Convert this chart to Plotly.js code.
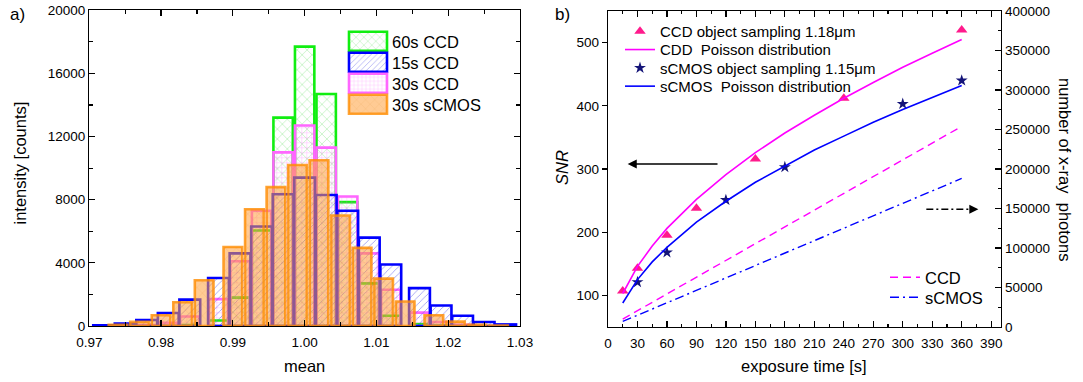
<!DOCTYPE html>
<html><head><meta charset="utf-8">
<script src="https://cdn.plot.ly/plotly-3.0.1.min.js"></script>
<style>html,body{margin:0;padding:0;background:#fff}#chart{width:1083px;height:382px}</style>
</head><body><div id="chart"></div>
<script>
// ---------- Panel a: histograms of the mean ----------
const binsCCD15 = [0.972,0.975,0.978,0.981,0.984,0.988,0.991,0.994,0.997,1.000,1.003,1.006,1.009,1.012,1.016,1.019,1.022,1.025,1.028];
const countsCCD15 = [50,150,380,820,1670,3040,4600,6300,8350,9400,8300,7300,5600,3900,2400,1300,650,250,100];
const binsCCD60 = [0.981,0.984,0.988,0.991,0.994,0.997,1.000,1.003,1.006,1.009,1.012,1.016,1.019];
const countsCCD60 = [20,60,350,1800,6050,13200,17700,14700,7850,2700,650,120,30];
const binsCCD30 = [0.978,0.981,0.984,0.988,0.991,0.994,0.997,1.000,1.003,1.006,1.009,1.012,1.016,1.019,1.022];
const countsCCD30 = [60,200,600,1700,4100,7300,11000,12700,11300,8200,4600,2300,850,250,80];
const binsCMOS30 = [0.974,0.977,0.980,0.983,0.986,0.990,0.993,0.996,0.999,1.002,1.005,1.008,1.011,1.014,1.018,1.021,1.024,1.027];
const countsCMOS30 = [80,260,680,1500,2900,5000,7400,8800,10200,10500,7000,4950,3000,1550,680,280,80,30];
const histNames = ['60s CCD','15s CCD','30s CCD','30s sCMOS'];

// ---------- Panel b: SNR vs exposure time ----------
const tObsCCD = [15,30,60,90,150,240,360];
const snrObsCCD = [107,143,195,238,316,412,520];
const tObsCMOS = [30,60,120,180,300,360];
const snrObsCMOS = [121,168,251,303,403,440];
const tModel = [15,30,45,60,90,120,150,180,210,240,270,300,330,360];
const snrPoissonCCD = [103,146,178,206,252,291,326,357,385,412,437,461,483,505];
const snrPoissonCMOS = [88,125,153,176,216,249,279,305,330,352,374,394,413,432];
const tPhotons = [15,360];
const photonsCCD = [10000,254000];
const photonsCMOS = [7000,188000];

const FONT = 'Liberation Sans, Arial, sans-serif';
const data = [
  {type:'bar', x:binsCCD60, y:countsCCD60, name:histNames[0], width:0.0027, xaxis:'x', yaxis:'y', legend:'legend', legendrank:1,
   marker:{color:'rgba(0,0,0,0)', line:{color:'#11ee11', width:2.6},
     pattern:{shape:'x', fgcolor:'rgba(40,210,40,0.55)', bgcolor:'rgba(255,255,255,0)', size:7, solidity:0.12}}},
  {type:'bar', x:binsCCD30, y:countsCCD30, name:histNames[2], width:0.0027, xaxis:'x', yaxis:'y', legend:'legend', legendrank:3,
   marker:{color:'rgba(0,0,0,0)', line:{color:'#ff66ff', width:2.6},
     pattern:{shape:'+', fgcolor:'rgba(255,90,255,0.55)', bgcolor:'rgba(255,255,255,0)', size:5, solidity:0.15}}},
  {type:'bar', x:binsCCD15, y:countsCCD15, name:histNames[1], width:0.0029, xaxis:'x', yaxis:'y', legend:'legend', legendrank:2,
   marker:{color:'rgba(0,0,0,0)', line:{color:'#0000ff', width:2.6},
     pattern:{shape:'/', fgcolor:'rgba(70,70,230,0.6)', bgcolor:'rgba(255,255,255,0)', size:5, solidity:0.15}}},
  {type:'bar', x:binsCMOS30, y:countsCMOS30, name:histNames[3], width:0.0026, xaxis:'x', yaxis:'y', legend:'legend', legendrank:4,
   marker:{color:'rgba(255,160,60,0.55)', line:{color:'rgba(255,140,0,0.8)', width:2.6},
     pattern:{shape:'x', fillmode:'overlay', fgcolor:'rgba(210,110,0,0.45)', bgcolor:'rgba(255,160,60,0.55)', size:8, solidity:0.1}}},

  {type:'scatter', mode:'markers', x:tObsCCD, y:snrObsCCD, name:'CCD object sampling 1.18μm', xaxis:'x2', yaxis:'y2', legend:'legend2',
   marker:{symbol:'triangle-up', size:10, color:'#ff1a8c'}},
  {type:'scatter', mode:'lines', x:tModel, y:snrPoissonCCD, name:'CDD \u00a0Poisson distribution', xaxis:'x2', yaxis:'y2', legend:'legend2',
   line:{color:'#ff00ff', width:1.6}},
  {type:'scatter', mode:'markers', x:tObsCMOS, y:snrObsCMOS, name:'sCMOS object sampling 1.15μm', xaxis:'x2', yaxis:'y2', legend:'legend2',
   marker:{symbol:'star', size:9, color:'#141478'}},
  {type:'scatter', mode:'lines', x:tModel, y:snrPoissonCMOS, name:'sCMOS \u00a0Poisson distribution', xaxis:'x2', yaxis:'y2', legend:'legend2',
   line:{color:'#0000ff', width:1.6}},
  {type:'scatter', mode:'lines', x:tPhotons, y:photonsCCD, name:'CCD', xaxis:'x2', yaxis:'y3', legend:'legend3',
   line:{color:'#ff00ff', width:1.4, dash:'8px,5px'}},
  {type:'scatter', mode:'lines', x:tPhotons, y:photonsCMOS, name:'sCMOS', xaxis:'x2', yaxis:'y3', legend:'legend3',
   line:{color:'#0000ff', width:1.4, dash:'9px,4px,2px,4px'}}
];

const tickfont = {family:FONT, size:13.5, color:'#000'};
function ax(extra){
  return Object.assign({showline:true, linecolor:'#000', linewidth:1.3, ticks:'inside', ticklen:6, tickwidth:1.2,
    tickcolor:'#000', showgrid:false, zeroline:false, tickfont:tickfont, fixedrange:true}, extra);
}
const minorIn = (d,len)=>({dtick:d, ticks:'inside', ticklen:len, tickwidth:1.1, tickcolor:'#000', showgrid:false});
const px = v => v/1083, py = v => 1 - v/382;

const layout = {
  width:1083, height:382, margin:{l:0,r:0,t:0,b:0}, paper_bgcolor:'#fff', plot_bgcolor:'rgba(0,0,0,0)',
  barmode:'overlay', font:{family:FONT, color:'#000'}, showlegend:true,
  xaxis: ax({domain:[px(89.3), px(520)], range:[0.97,1.03], tick0:0.97, dtick:0.01, tickformat:'.2f', mirror:'ticks', anchor:'y', minor:minorIn(0.005,4), ticklabelstandoff:3}),
  yaxis: ax({domain:[py(326), py(10.3)], range:[0,20000], tick0:0, dtick:4000, tickformat:'d', mirror:'ticks', anchor:'x', minor:minorIn(2000,4)}),
  xaxis2: ax({domain:[px(608), px(1001)], range:[0,400], tick0:0, dtick:30, mirror:'ticks', anchor:'y2', minor:minorIn(15,3), ticklabelstandoff:3}),
  yaxis2: ax({domain:[py(327), py(11)], range:[50,550], tick0:0, dtick:100, ticks:'outside', ticklen:5, anchor:'x2'}),
  yaxis3: ax({overlaying:'y2', side:'right', anchor:'x2', range:[0,400000], tick0:0, dtick:50000, tickformat:'d', minor:minorIn(25000,3)}),
  legend: {x:px(352), y:py(24), xanchor:'left', yanchor:'top', bgcolor:'rgba(0,0,0,0)', borderwidth:0, font:{family:FONT, size:16.5, color:'#000'}, traceorder:'normal'},
  legend2: {x:px(620), y:py(15), xanchor:'left', yanchor:'top', bgcolor:'rgba(0,0,0,0)', borderwidth:0, font:{family:FONT, size:15, color:'#000'}},
  legend3: {x:px(885), y:py(260), xanchor:'left', yanchor:'top', bgcolor:'rgba(0,0,0,0)', borderwidth:0, font:{family:FONT, size:16.5, color:'#000'}},
  annotations: [
    {text:'a)', xref:'paper', yref:'paper', x:px(17), y:py(15), showarrow:false, font:{size:17}, xanchor:'center', yanchor:'middle'},
    {text:'b)', xref:'paper', yref:'paper', x:px(562), y:py(15), showarrow:false, font:{size:17}, xanchor:'center', yanchor:'middle'},
    {text:'intensity [counts]', xref:'paper', yref:'paper', x:px(19.5), y:py(163), textangle:-90, showarrow:false, font:{size:16.5}, xanchor:'center', yanchor:'middle'},
    {text:'mean', xref:'paper', yref:'paper', x:px(304.6), y:py(366), showarrow:false, font:{size:16.5}, xanchor:'center', yanchor:'middle'},
    {text:'<i>SNR</i>', xref:'paper', yref:'paper', x:px(562), y:py(168), textangle:-90, showarrow:false, font:{size:16.5}, xanchor:'center', yanchor:'middle'},
    {text:'exposure time [s]', xref:'paper', yref:'paper', x:px(804), y:py(366), showarrow:false, font:{size:16.5}, xanchor:'center', yanchor:'middle'},
    {text:'number of x-ray \u00a0photons', xref:'paper', yref:'paper', x:px(1065), y:py(169), textangle:90, showarrow:false, font:{size:16.5}, xanchor:'center', yanchor:'middle'},
    {text:'', xref:'x2', yref:'y2', x:20, y:308, axref:'x2', ayref:'y2', ax:113, ay:308, showarrow:true, arrowhead:2, arrowsize:1.3, arrowwidth:1.4, arrowcolor:'#000', standoff:0, startstandoff:0},
    {text:'', xref:'x2', yref:'y3', x:377, y:149000, axref:'x2', ayref:'y3', ax:368, ay:149000, showarrow:true, arrowhead:2, arrowsize:1.3, arrowwidth:1.4, arrowcolor:'#000', standoff:0, startstandoff:0}
  ],
  shapes: [
    {type:'line', xref:'x2', yref:'y3', x0:324, x1:370, y0:149000, y1:149000, line:{color:'#000', width:1.4, dash:'7px,3px,2px,3px'}}
  ]
};

function fixLegend(gd, cls, spacing, bigSwatch){
  const lg = gd.querySelector('g.' + cls);
  if (!lg) return;
  if (bigSwatch) {
    const sb = lg.querySelector('.scrollbox');
    if (sb) sb.removeAttribute('clip-path');
  }
  const items = lg.querySelectorAll('g.traces');
  let y0 = null;
  items.forEach((it, i) => {
    const m = /translate\(\s*([-\d.e]+)[\s,]+([-\d.e]+)\s*\)/.exec(it.getAttribute('transform') || '');
    if (!m) return;
    const x = parseFloat(m[1]), y = parseFloat(m[2]);
    if (y0 === null) y0 = y;
    it.setAttribute('transform', 'translate(' + x + ',' + (y0 + i * spacing) + ')');
    if (bigSwatch) {
      it.querySelectorAll('.legendpoints path').forEach(p => {
        p.setAttribute('d', 'M35,9.5H-3V-9.5H35Z');
        p.removeAttribute('transform');
      });
    }
  });
}

Plotly.newPlot('chart', data, layout, {staticPlot:true, displayModeBar:false}).then(gd => {
  fixLegend(gd, 'legend', 21, true);
  fixLegend(gd, 'legend2', 18.3, false);
  fixLegend(gd, 'legend3', 20, false);
});
</script>
</body></html>
